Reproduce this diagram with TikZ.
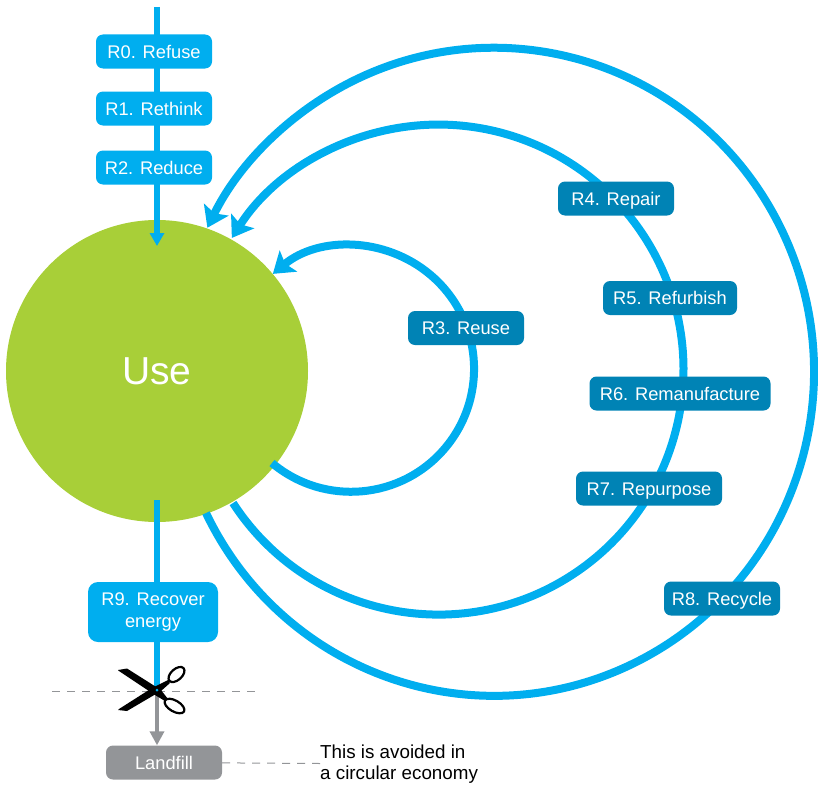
\documentclass[tikz,border=0pt]{standalone}
\usepackage{fontspec}
\setmainfont{Liberation Sans}
\usetikzlibrary{arrows.meta}
\definecolor{lb}{HTML}{00AEEF}
\definecolor{db}{HTML}{0083B5}
\definecolor{gr}{HTML}{A8CF38}
\definecolor{gy}{HTML}{939598}
\tikzset{
 lbox/.style={fill=lb,rounded corners=7pt,text=white,font=\fontsize{18.3}{22}\selectfont,align=center,inner sep=0pt,minimum height=34pt,text height=14.8pt,text depth=1.6pt},
 dbox/.style={lbox,fill=db},
 loop/.style={draw=lb,line width=8pt},
 tipa/.style={-{Triangle[length=20pt,width=27pt,inset=4pt]}},
 vline/.style={draw=lb,line width=5.5pt},
 dashline/.style={draw=gy,line width=1pt,dash pattern=on 8pt off 7pt},
}
\begin{document}
\begin{tikzpicture}[x=1pt,y=-1pt]
\useasboundingbox (0,0) rectangle (818,784);
\node[circle,fill=gr,minimum size=302pt,inner sep=0pt,text=white,font=\fontsize{39}{44}\selectfont] (use) at (157,371) {Use};
\coordinate (top) at (157,7);
\coordinate (intip) at (157,246);
\coordinate (outs) at (157,500);
\coordinate (cut) at (157,690);
\draw[vline,-{Triangle[length=13pt,width=14pt]}] (top) -- (intip);
\draw[vline] (outs) -- (cut);
% loops
\draw[loop,tipa] (272,463) arc[start angle=130,end angle=-129.5,x radius=123,y radius=123];
\draw[loop,tipa] (233,503) arc[start angle=147,end angle=-147.5,x radius=245,y radius=245];
\draw[loop,tipa] (206,513) arc[start angle=154.16,end angle=-153.6,x radius=320,y radius=324];
% nodes
\node[lbox,minimum width=116pt] (r0) at (154,51.5) {R0. Refuse};
\node[lbox,minimum width=116pt] (r1) at (154,108.5) {R1. Rethink};
\node[lbox,minimum width=116pt] (r2) at (154,167.5) {R2. Reduce};
\node[fill=lb,rounded corners=10pt,text=white,font=\fontsize{18.3}{22}\selectfont,align=center,inner sep=0pt,minimum width=130pt,minimum height=60pt] (r9) at (153,612) {R9. Recover\\energy};
\node[dbox,minimum width=116pt] (r3) at (466,328) {R3. Reuse};
\node[dbox,minimum width=116pt] (r4) at (616,198.5) {R4. Repair};
\node[dbox,minimum width=134pt] (r5) at (670,298) {R5. Refurbish};
\node[dbox,minimum width=181pt] (r6) at (680,393.5) {R6. Remanufacture};
\node[dbox,minimum width=146pt] (r7) at (649,488.5) {R7. Repurpose};
\node[dbox,minimum width=116pt] (r8) at (722,598.5) {R8. Recycle};
\node[lbox,fill=gy,minimum width=116pt] (lf) at (164,762.5) {Landfill};
\draw[draw=gy,line width=4.5pt,-{Triangle[length=14pt,width=14pt]}] (cut) -- (lf.north -| cut);
\draw[lb,line width=5.5pt] (157,670) -- (cut);
% cut line
\coordinate (cl) at (52,691);
\coordinate (cr) at (256,691);
\draw[dashline] (cl) -- (cr);
% scissors
\fill[black] (118,670) -- (127,668.5) -- (161,690) -- (168,699) -- (165,701) -- (155,695) -- (119,671) -- cycle;
\fill[black] (118,710) -- (127,711) -- (161,691) -- (170,683) -- (168,680) -- (152,688) -- (119,709) -- cycle;
\draw[black,line width=2.2pt,rotate around={42:(176.5,674.5)}] (176.5,674.5) ellipse[x radius=9.5,y radius=5.5];
\draw[black,line width=2.2pt,rotate around={-30:(174.5,706)}] (174.5,706) ellipse[x radius=11,y radius=5.5];
\fill[lb] (cut) circle (1.5);
% note
\node[align=left,inner sep=0pt,anchor=west,font=\fontsize{18.8}{20.5}\selectfont] (note) at (320,764) {This is avoided in\\a circular economy};
\draw[dashline] (lf) -- (note);
\end{tikzpicture}
\end{document}
